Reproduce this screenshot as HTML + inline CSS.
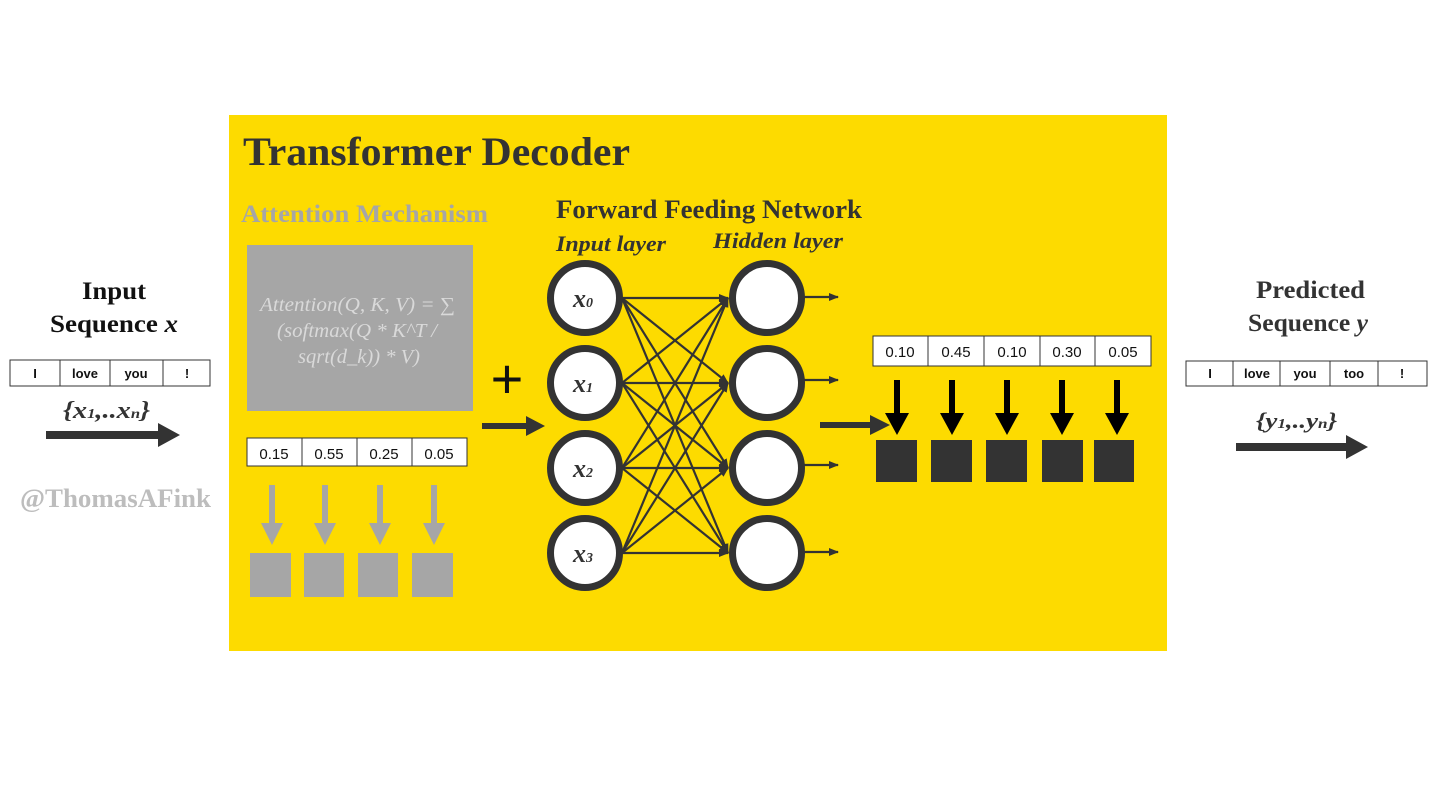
<!DOCTYPE html>
<html><head><meta charset="utf-8"><style>
html,body{margin:0;padding:0;background:#fff;}
svg{display:block}
.s{font-family:"Liberation Serif",serif;font-weight:bold;}
.n{font-family:"Liberation Sans",sans-serif;}
</style></head><body>
<svg width="1440" height="810" viewBox="0 0 1440 810" xmlns="http://www.w3.org/2000/svg">
<defs>
<marker id="ah" markerWidth="10" markerHeight="8" refX="9" refY="4" orient="auto" markerUnits="userSpaceOnUse"><path d="M0,0 L10,4 L0,8 z" fill="#333"/></marker>
</defs>
<rect x="229" y="115" width="938" height="536" fill="#FDDB00"/>
<text x="243" y="165" class="s" font-size="40" fill="#333" textLength="387" lengthAdjust="spacingAndGlyphs">Transformer Decoder</text>
<text x="241" y="222" class="s" font-size="25" fill="#a6a6a6" textLength="247" lengthAdjust="spacingAndGlyphs">Attention Mechanism</text>
<rect x="247" y="245" width="226" height="166" fill="#a6a6a6"/>
<g font-family="Liberation Serif,serif" font-style="italic" font-size="20" fill="#d9d9d9">
<text x="260" y="311" textLength="195" lengthAdjust="spacingAndGlyphs">Attention(Q, K, V) = ∑</text>
<text x="277" y="337" textLength="160" lengthAdjust="spacingAndGlyphs">(softmax(Q * K^T /</text>
<text x="298" y="363" textLength="122" lengthAdjust="spacingAndGlyphs">sqrt(d_k)) * V)</text>
</g>
<g class="n" font-size="15" text-anchor="middle" fill="#111">
<rect x="247" y="438" width="220" height="28" fill="#fff" stroke="#333"/>
<line x1="302" y1="438" x2="302" y2="466" stroke="#333"/><line x1="357" y1="438" x2="357" y2="466" stroke="#333"/><line x1="412" y1="438" x2="412" y2="466" stroke="#333"/>
<text x="274" y="459">0.15</text><text x="329" y="459">0.55</text><text x="384" y="459">0.25</text><text x="439" y="459">0.05</text>
</g>
<g fill="#a6a6a6">
<path d="M269,485h6v38h8l-11,22l-11,-22h8z"/>
<path d="M322,485h6v38h8l-11,22l-11,-22h8z"/>
<path d="M377,485h6v38h8l-11,22l-11,-22h8z"/>
<path d="M431,485h6v38h8l-11,22l-11,-22h8z"/>
<rect x="250" y="553" width="41" height="44"/><rect x="304" y="553" width="40" height="44"/><rect x="358" y="553" width="40" height="44"/><rect x="412" y="553" width="41" height="44"/>
</g>
<text x="507" y="398" text-anchor="middle" font-family="Liberation Sans,sans-serif" font-size="56" fill="#111">+</text>
<path d="M482,423h44v-7l19,10l-19,10v-7h-44z" fill="#333"/>
<text x="556" y="218" class="s" font-size="26" fill="#333" textLength="306" lengthAdjust="spacingAndGlyphs">Forward Feeding Network</text>
<text x="556" y="251" class="s" font-style="italic" font-size="22" fill="#333" textLength="110" lengthAdjust="spacingAndGlyphs">Input layer</text>
<text x="713" y="248" class="s" font-style="italic" font-size="22" fill="#333" textLength="130" lengthAdjust="spacingAndGlyphs">Hidden layer</text>
<g stroke="#333" stroke-width="2.2" marker-end="url(#ah)">
<line x1="622" y1="298" x2="728" y2="298"/><line x1="622" y1="298" x2="728" y2="383"/><line x1="622" y1="298" x2="728" y2="468"/><line x1="622" y1="298" x2="728" y2="553"/>
<line x1="622" y1="383" x2="728" y2="298"/><line x1="622" y1="383" x2="728" y2="383"/><line x1="622" y1="383" x2="728" y2="468"/><line x1="622" y1="383" x2="728" y2="553"/>
<line x1="622" y1="468" x2="728" y2="298"/><line x1="622" y1="468" x2="728" y2="383"/><line x1="622" y1="468" x2="728" y2="468"/><line x1="622" y1="468" x2="728" y2="553"/>
<line x1="622" y1="553" x2="728" y2="298"/><line x1="622" y1="553" x2="728" y2="383"/><line x1="622" y1="553" x2="728" y2="468"/><line x1="622" y1="553" x2="728" y2="553"/>
<line x1="804" y1="297" x2="838" y2="297"/><line x1="804" y1="380" x2="838" y2="380"/><line x1="804" y1="465" x2="838" y2="465"/><line x1="804" y1="552" x2="838" y2="552"/>
</g>
<g fill="#fff" stroke="#333" stroke-width="7">
<circle cx="585" cy="298" r="34.5"/><circle cx="585" cy="383" r="34.5"/><circle cx="585" cy="468" r="34.5"/><circle cx="585" cy="553" r="34.5"/>
<circle cx="767" cy="298" r="34.5"/><circle cx="767" cy="383" r="34.5"/><circle cx="767" cy="468" r="34.5"/><circle cx="767" cy="553" r="34.5"/>
</g>
<g class="s" font-style="italic" font-size="26" fill="#333" text-anchor="middle">
<text x="583" y="307">x<tspan font-size="14">0</tspan></text>
<text x="583" y="392">x<tspan font-size="14">1</tspan></text>
<text x="583" y="477">x<tspan font-size="14">2</tspan></text>
<text x="583" y="562">x<tspan font-size="14">3</tspan></text>
</g>
<path d="M820,422h50v-7l20,10l-20,10v-7h-50z" fill="#333"/>
<g class="n" font-size="15" text-anchor="middle" fill="#111">
<rect x="873" y="336" width="278" height="30" fill="#fff" stroke="#333"/>
<line x1="928" y1="336" x2="928" y2="366" stroke="#333"/><line x1="984" y1="336" x2="984" y2="366" stroke="#333"/><line x1="1040" y1="336" x2="1040" y2="366" stroke="#333"/><line x1="1095" y1="336" x2="1095" y2="366" stroke="#333"/>
<text x="900" y="357">0.10</text><text x="956" y="357">0.45</text><text x="1012" y="357">0.10</text><text x="1067" y="357">0.30</text><text x="1123" y="357">0.05</text>
</g>
<g fill="#000">
<path d="M894,380h6v33h9l-12,22l-12,-22h9z"/>
<path d="M949,380h6v33h9l-12,22l-12,-22h9z"/>
<path d="M1004,380h6v33h9l-12,22l-12,-22h9z"/>
<path d="M1059,380h6v33h9l-12,22l-12,-22h9z"/>
<path d="M1114,380h6v33h9l-12,22l-12,-22h9z"/>
</g>
<g fill="#333">
<rect x="876" y="440" width="41" height="42"/><rect x="931" y="440" width="41" height="42"/><rect x="986" y="440" width="41" height="42"/><rect x="1042" y="440" width="41" height="42"/><rect x="1094" y="440" width="40" height="42"/>
</g>
<!-- left -->
<text x="82" y="299" class="s" font-size="25" fill="#111" textLength="64" lengthAdjust="spacingAndGlyphs">Input</text>
<text x="50" y="332" class="s" font-size="25" fill="#111" textLength="128" lengthAdjust="spacingAndGlyphs">Sequence <tspan font-style="italic">x</tspan></text>
<g class="n" font-size="13" font-weight="bold" text-anchor="middle" fill="#111">
<rect x="10" y="360" width="200" height="26" fill="#fff" stroke="#333"/>
<line x1="60" y1="360" x2="60" y2="386" stroke="#333"/><line x1="110" y1="360" x2="110" y2="386" stroke="#333"/><line x1="163" y1="360" x2="163" y2="386" stroke="#333"/>
<text x="35" y="378">I</text><text x="85" y="378">love</text><text x="136" y="378">you</text><text x="187" y="378">!</text>
</g>
<text x="63" y="418" class="s" font-style="italic" font-size="24" fill="#333" textLength="87" lengthAdjust="spacingAndGlyphs">{x<tspan font-size="14">1</tspan>,..x<tspan font-size="14">n</tspan>}</text>
<path d="M46,431h112v-8l22,12l-22,12v-8h-112z" fill="#333"/>
<text x="20" y="507" class="s" font-size="26" fill="#bdbdbd" textLength="191" lengthAdjust="spacingAndGlyphs">@ThomasAFink</text>
<!-- right -->
<text x="1256" y="298" class="s" font-size="25" fill="#333" textLength="109" lengthAdjust="spacingAndGlyphs">Predicted</text>
<text x="1248" y="331" class="s" font-size="25" fill="#333" textLength="120" lengthAdjust="spacingAndGlyphs">Sequence <tspan font-style="italic">y</tspan></text>
<g class="n" font-size="13" font-weight="bold" text-anchor="middle" fill="#111">
<rect x="1186" y="361" width="241" height="25" fill="#fff" stroke="#333"/>
<line x1="1233" y1="361" x2="1233" y2="386" stroke="#333"/><line x1="1280" y1="361" x2="1280" y2="386" stroke="#333"/><line x1="1330" y1="361" x2="1330" y2="386" stroke="#333"/><line x1="1378" y1="361" x2="1378" y2="386" stroke="#333"/>
<text x="1210" y="378">I</text><text x="1257" y="378">love</text><text x="1305" y="378">you</text><text x="1354" y="378">too</text><text x="1402" y="378">!</text>
</g>
<text x="1256" y="428" class="s" font-style="italic" font-size="22" fill="#333" textLength="81" lengthAdjust="spacingAndGlyphs">{y<tspan font-size="14">1</tspan>,..y<tspan font-size="14">n</tspan>}</text>
<path d="M1236,443h110v-8l22,12l-22,12v-8h-110z" fill="#333"/>
</svg>
</body></html>
